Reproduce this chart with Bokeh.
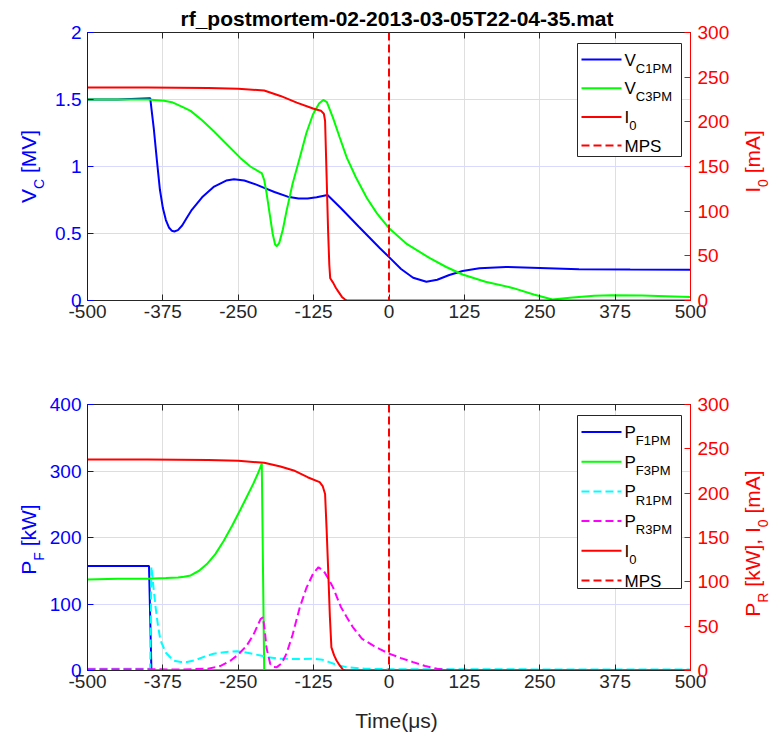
import math
from bokeh.plotting import figure
from bokeh.models import Range1d, LinearAxis, FixedTicker, CustomJSTickFormatter, Span, Label, Title
from bokeh.layouts import column, row
from bokeh.embed import file_html
from bokeh.resources import INLINE

# ---------------- data ----------------
title_text = "rf_postmortem-02-2013-03-05T22-04-35.mat"
x_ticks = [-500, -375, -250, -125, 0, 125, 250, 375, 500]
vc_ticks = [0, 0.5, 1, 1.5, 2]
pf_ticks = [0, 100, 200, 300, 400]
right_ticks = [0, 50, 100, 150, 200, 250, 300]
mps_time = 0

t_vc1 = [-500, -450, -396, -390, -385, -380, -375, -370, -365, -360, -356, -350, -343, -335, -328,
         -310, -290, -270, -257, -240, -220, -207, -190, -168, -150, -135, -120, -110, -102,
         -80, -50, -15, 1, 20, 40, 62, 80, 100, 122, 150, 194, 250, 315, 400, 500]
vc1 = [1.50, 1.50, 1.51, 1.28, 1.05, 0.83, 0.69, 0.60, 0.545, 0.52, 0.515, 0.525, 0.56, 0.62, 0.67,
       0.77, 0.85, 0.895, 0.905, 0.895, 0.865, 0.84, 0.81, 0.775, 0.762, 0.762, 0.77, 0.78, 0.787,
       0.69, 0.55, 0.39, 0.32, 0.235, 0.17, 0.14, 0.155, 0.19, 0.22, 0.24, 0.25, 0.243, 0.234, 0.231, 0.229]

t_vc3 = [-500, -450, -400, -373, -360, -350, -340, -329, -310, -291, -270, -247, -230, -215, -211,
         -207, -203, -198, -193, -189, -186, -182, -176, -170, -160, -148, -137, -126, -116, -109,
         -103, -93, -82, -70, -55, -37, -20, 1, 30, 67, 95, 122, 160, 205, 240, 271, 300, 340, 370, 420, 500]
vc3 = [1.50, 1.50, 1.50, 1.49, 1.48, 1.46, 1.44, 1.415, 1.345, 1.265, 1.17, 1.066, 1.0, 0.96, 0.95,
       0.90, 0.80, 0.65, 0.50, 0.42, 0.405, 0.43, 0.53, 0.667, 0.87, 1.066, 1.25, 1.39, 1.47, 1.497,
       1.48, 1.365, 1.22, 1.066, 0.92, 0.767, 0.65, 0.535, 0.42, 0.318, 0.25, 0.194, 0.14, 0.094, 0.045,
       0.007, 0.02, 0.036, 0.04, 0.037, 0.027]

t_i0_top = [-500, -400, -300, -250, -207, -180, -153, -126, -113, -108, -106, -103.5, -101, -99,
            -97.5, -92.5, -88, -84, -78, -73, -70, 500]
i0_top = [238.5, 238.5, 238, 237, 235, 229, 221.5, 215, 212.5, 209, 201, 140, 78, 40,
          25, 19.7, 14, 10, 4, 1, 0, 0]

t_pf1 = [-500, -450, -398, -394, 500]
pf1 = [157, 157, 157, 0, 0]

t_pf3 = [-500, -450, -400, -370, -350, -340, -329, -315, -302, -288, -274, -260, -247, -236,
         -225, -217, -211, -207, 500]
pf3 = [137, 138, 138, 139, 140, 141, 143, 150, 160, 175, 195, 218, 241, 261,
       281, 297, 311, 0, 0]

t_pr1 = [-500, -400, -396, -395, -394, -390, -387, -383, -379, -370, -357, -345, -335, -320, -305,
         -291, -270, -252, -235, -213, -200, -181, -150, -125, -110, -99, -85, -70, -40, 0, 500]
pr1 = [2, 2, 2, 60, 117, 90, 71, 50, 34, 20, 11, 9.5, 9.5, 12, 16,
       18.8, 21, 21.8, 20, 16.9, 15, 13.2, 13, 13.2, 12, 9.5, 6, 3.8, 2, 1.5, 1]

t_pr3 = [-500, -400, -350, -300, -280, -263, -250, -236, -225, -213, -209, -206, -203, -197, -192,
         -186, -178, -170, -160, -148, -137, -126, -117, -108, -100, -93, -80, -70, -60, -45, -26,
         -15, 0, 20, 40, 60, 80, 95, 120, 500]
pr3 = [1.5, 1.5, 1, 2, 5, 11, 18, 28, 40, 58, 60, 45, 25, 7.5, 4,
       3.8, 8, 19, 40, 71, 93, 109, 116.5, 112, 103, 94, 72, 60, 49, 36, 28,
       24, 19, 14, 9.4, 5, 2, 0.8, 0, 0]

t_i0_bot = [-500, -400, -300, -250, -207, -180, -158, -135, -115, -110, -106, -103.5, -101, -98,
            -95.5, -91, -87, -82, -76, -72, 500]
i0_bot = [238, 238, 237.5, 236.5, 234.3, 230, 225.6, 218, 212.4, 208, 199, 160, 116, 60,
          26, 17, 11.3, 6, 0.8, 0, 0]

# ---------------- styling / layout ----------------
FONT = "Liberation Sans"
BLUE, GREEN, RED, CYAN, MAG = "#0000ff", "#00ff00", "#ff0000", "#00ffff", "#ff00ff"
AX = "#262626"
PAGE_W = 770
FL, FR = 87, 690            # frame left / right (page px)
LW, RW = 46, 32             # widths of the label strips
XLAB_H = 35
TOP_FT, TOP_FB = 32, 300    # top panel frame (page px)
BOT_FT, BOT_FB = 404, 670   # bottom panel frame (page px)
TICK_FS = "19px"
LAB_FS, SUB_FS = 21, 14
LEG_FS, LEG_SUB = 17, 13
DASH = "8 4"
BASE_K = 0.26               # anchor correction (em) so that glyph baselines land where intended

CW = {'V': 667, 'P': 667, 'I': 278, 'M': 833, 'S': 667, 'C': 722, 'F': 611, 'R': 722, '0': 556,
      '1': 556, '3': 556, ' ': 278, '[': 278, ']': 278, 'k': 500, 'W': 944, 'm': 833, 'A': 667, ',': 278}
CWB = {'r': 389, 'f': 333, '_': 556, 'p': 611, 'o': 611, 's': 556, 't': 333, 'm': 889, 'e': 556,
       '-': 333, 'T': 611, '.': 278, 'a': 556}


def tw(s, size):
    return sum(CW.get(c, 556) for c in s) / 1000.0 * size


def twb(s, size):
    return sum(CWB.get(c, 556) for c in s) / 1000.0 * size


def text_fig(x0, y0, w, h, bl, br, bt, bb):
    """Bare figure used only to hold texts; its frame is [x0+bl, x0+w-br] x [y0+bt, y0+h-bb]."""
    fw, fh = w - bl - br, h - bt - bb
    f = figure(width=w, height=h, x_range=Range1d(0, fw), y_range=Range1d(0, fh),
               output_backend="svg", toolbar_location=None,
               min_border_left=bl, min_border_right=br, min_border_top=bt, min_border_bottom=bb,
               x_axis_location=None, y_axis_location=None, outline_line_color=None,
               background_fill_color="white", border_fill_color="white")
    f.grid.visible = False
    X = lambda px: px - (x0 + bl)
    Y = lambda py: (y0 + h - bb) - py
    return f, X, Y


def make_fig(x0, page_top, width, height, frame_top, frame_bot, ymax_left, ymax_right, lticks):
    p = figure(width=width, height=height, x_range=Range1d(-500, 500), y_range=Range1d(0, ymax_left),
               output_backend="svg", toolbar_location=None,
               min_border_left=FL - x0, min_border_right=x0 + width - FR,
               min_border_top=frame_top - page_top,
               min_border_bottom=page_top + height - frame_bot,
               background_fill_color="white", border_fill_color="white",
               outline_line_color=AX, outline_line_width=1)
    p.extra_y_ranges = {"right": Range1d(0, ymax_right)}

    xa = p.below[0]
    xa.ticker = FixedTicker(ticks=x_ticks)
    xa.formatter = CustomJSTickFormatter(code="return tick.toString();")
    xa.major_label_text_font = FONT
    xa.major_label_text_font_size = TICK_FS
    xa.major_label_text_color = AX
    xa.axis_line_color = AX
    xa.major_tick_line_color = AX
    xa.major_tick_in = 6
    xa.major_tick_out = 0
    xa.minor_tick_line_color = None
    xa.major_label_standoff = 4

    ya = p.left[0]
    ya.ticker = FixedTicker(ticks=lticks)
    ya.formatter = CustomJSTickFormatter(code="return tick.toString();")
    ya.major_label_text_font = FONT
    ya.major_label_text_font_size = TICK_FS
    ya.major_label_text_color = BLUE
    ya.axis_line_color = BLUE
    ya.major_tick_line_color = BLUE
    ya.major_tick_in = 6
    ya.major_tick_out = 0
    ya.minor_tick_line_color = None
    ya.major_label_standoff = 6

    ra = LinearAxis(y_range_name="right", ticker=FixedTicker(ticks=right_ticks),
                    formatter=CustomJSTickFormatter(code="return tick.toString();"),
                    major_label_text_font=FONT, major_label_text_font_size=TICK_FS,
                    major_label_text_color=RED, axis_line_color=RED, major_tick_line_color=RED,
                    major_tick_in=6, major_tick_out=0, minor_tick_line_color=None,
                    major_label_standoff=7)
    p.add_layout(ra, "right")

    ta = LinearAxis(ticker=FixedTicker(ticks=x_ticks),
                    formatter=CustomJSTickFormatter(code="return '';"),
                    axis_line_color=AX, major_tick_line_color=AX,
                    major_tick_in=6, major_tick_out=0, minor_tick_line_color=None,
                    major_label_text_font_size="0px", major_label_standoff=0)
    p.add_layout(ta, "above")

    p.xgrid.grid_line_color = "#dfdfdf"
    p.ygrid.grid_line_color = "#d9d9ff"

    X = lambda px: -500 + (px - FL) / (FR - FL) * 1000.0
    Y = lambda py: (frame_bot - py) / (frame_bot - frame_top) * ymax_left
    return p, X, Y


def rot_label(f, X, Y, xb, ycenter, pieces, color):
    """pieces: (text, is_sub, gap_after_px); rotated 90deg ccw reading upward, centred on ycenter.
    xb is the page x of the main baseline."""
    total = sum(tw(t, SUB_FS if s else LAB_FS) + g for t, s, g in pieces)
    y = ycenter + total / 2
    for txt, sub, gap in pieces:
        fs = SUB_FS if sub else LAB_FS
        base = xb + (9 if sub else 0)
        f.add_layout(Label(x=X(base - BASE_K * fs), y=Y(y), text=txt, text_font=FONT,
                           text_font_size=f"{fs}px", text_color=color, angle=math.pi / 2,
                           text_align="left", text_baseline="alphabetic"))
        y -= tw(txt, fs) + gap


def hlabel(f, X, Y, px, base_py, text, fs, color, align="left", style="normal"):
    f.add_layout(Label(x=X(px), y=Y(base_py - BASE_K * fs), text=text, text_font=FONT,
                       text_font_size=f"{fs}px", text_color=color, text_align=align,
                       text_baseline="alphabetic", text_font_style=style))


def draw_legend(p, X, Y, box, row0, dy, entries):
    l, r, t, b = box
    p.quad(left=[X(l)], right=[X(r)], top=[Y(t)], bottom=[Y(b)], fill_color="white",
           line_color=AX, line_width=1)
    for i, (main, sub, color, dash) in enumerate(entries):
        ry = row0 + i * dy
        p.line([X(581), X(621)], [Y(ry), Y(ry)], line_color=color, line_width=2,
               line_dash=DASH if dash else "solid")
        base = ry + 5
        hlabel(p, X, Y, 624, base, main, LEG_FS, "#000000")
        if sub:
            hlabel(p, X, Y, 624 + tw(main, LEG_FS), base + 7, sub, LEG_SUB, "#000000")


MAIN_W = PAGE_W - LW - RW
SP = tw(" ", LAB_FS)

# ---------------- top panel ----------------
TOP_Y0, TOP_H = 0, 367
p1, X1, Y1 = make_fig(LW, TOP_Y0, MAIN_W, TOP_H, TOP_FT, TOP_FB, 2, 300, vc_ticks)
p1.title = Title(text=title_text, align="left", offset=round(396 - twb(title_text, 21) / 2 - FL),
                 text_font=FONT, text_font_size="21px", text_font_style="bold",
                 text_color="#000000", standoff=5, vertical_align="bottom")
p1.line(t_vc1, vc1, line_color=BLUE, line_width=2)
p1.line(t_vc3, vc3, line_color=GREEN, line_width=2)
p1.line(t_i0_top, i0_top, line_color=RED, line_width=2, y_range_name="right")
p1.add_layout(Span(location=mps_time, dimension="height", line_color=RED, line_width=2, line_dash=DASH))
draw_legend(p1, X1, Y1, (577, 681, 43, 156), 59, 28.7,
            [("V", "C1PM", BLUE, False), ("V", "C3PM", GREEN, False),
             ("I", "0", RED, False), ("MPS", "", RED, True)])

bt1, bb1 = TOP_FT - TOP_Y0, TOP_Y0 + TOP_H - TOP_FB
fl1, Xl1, Yl1 = text_fig(0, TOP_Y0, LW, TOP_H, 0, 0, bt1, bb1)
rot_label(fl1, Xl1, Yl1, 33, 166, [("V", False, 0), ("C", True, SP), ("[MV]", False, 0)], BLUE)
fr1, Xr1, Yr1 = text_fig(PAGE_W - RW, TOP_Y0, RW, TOP_H, 0, 0, bt1, bb1)
rot_label(fr1, Xr1, Yr1, 757, 161, [("I", False, 0), ("0", True, SP), ("[mA]", False, 0)], RED)

# ---------------- bottom panel ----------------
BOT_Y0, BOT_H = 367, 735 - XLAB_H - 367
p2, X2, Y2 = make_fig(LW, BOT_Y0, MAIN_W, BOT_H, BOT_FT, BOT_FB, 400, 300, pf_ticks)
p2.line(t_pf1, pf1, line_color=BLUE, line_width=2)
p2.line(t_pf3, pf3, line_color=GREEN, line_width=2)
p2.line(t_pr1, pr1, line_color=CYAN, line_width=2, line_dash=DASH, y_range_name="right")
p2.line(t_pr3, pr3, line_color=MAG, line_width=2, line_dash=DASH, y_range_name="right")
p2.line(t_i0_bot, i0_bot, line_color=RED, line_width=2, y_range_name="right")
p2.add_layout(Span(location=mps_time, dimension="height", line_color=RED, line_width=2, line_dash=DASH))
draw_legend(p2, X2, Y2, (577, 681, 415, 588), 431.5, 29.7,
            [("P", "F1PM", BLUE, False), ("P", "F3PM", GREEN, False),
             ("P", "R1PM", CYAN, True), ("P", "R3PM", MAG, True),
             ("I", "0", RED, False), ("MPS", "", RED, True)])

bt2, bb2 = BOT_FT - BOT_Y0, BOT_Y0 + BOT_H - BOT_FB
fl2, Xl2, Yl2 = text_fig(0, BOT_Y0, LW, BOT_H, 0, 0, bt2, bb2)
rot_label(fl2, Xl2, Yl2, 33, 539, [("P", False, 0), ("F", True, SP), ("[kW]", False, 0)], BLUE)
fr2, Xr2, Yr2 = text_fig(PAGE_W - RW, BOT_Y0, RW, BOT_H, 0, 0, bt2, bb2)
rot_label(fr2, Xr2, Yr2, 757, 543,
          [("P", False, 0), ("R", True, SP), ("[kW],", False, SP), ("I", False, 0), ("0", True, SP),
           ("[mA]", False, 0)], RED)

# ---------------- x-label strip ----------------
fx, Xx, Yx = text_fig(0, 735 - XLAB_H, PAGE_W, XLAB_H, FL, PAGE_W - FR, 0, 0)
hlabel(fx, Xx, Yx, 396, 725, "Time(μs)", 21, AX, align="center")

layout = column(row(fl1, p1, fr1), row(fl2, p2, fr2), fx)
open("out.html", "w").write(file_html(layout, INLINE))
